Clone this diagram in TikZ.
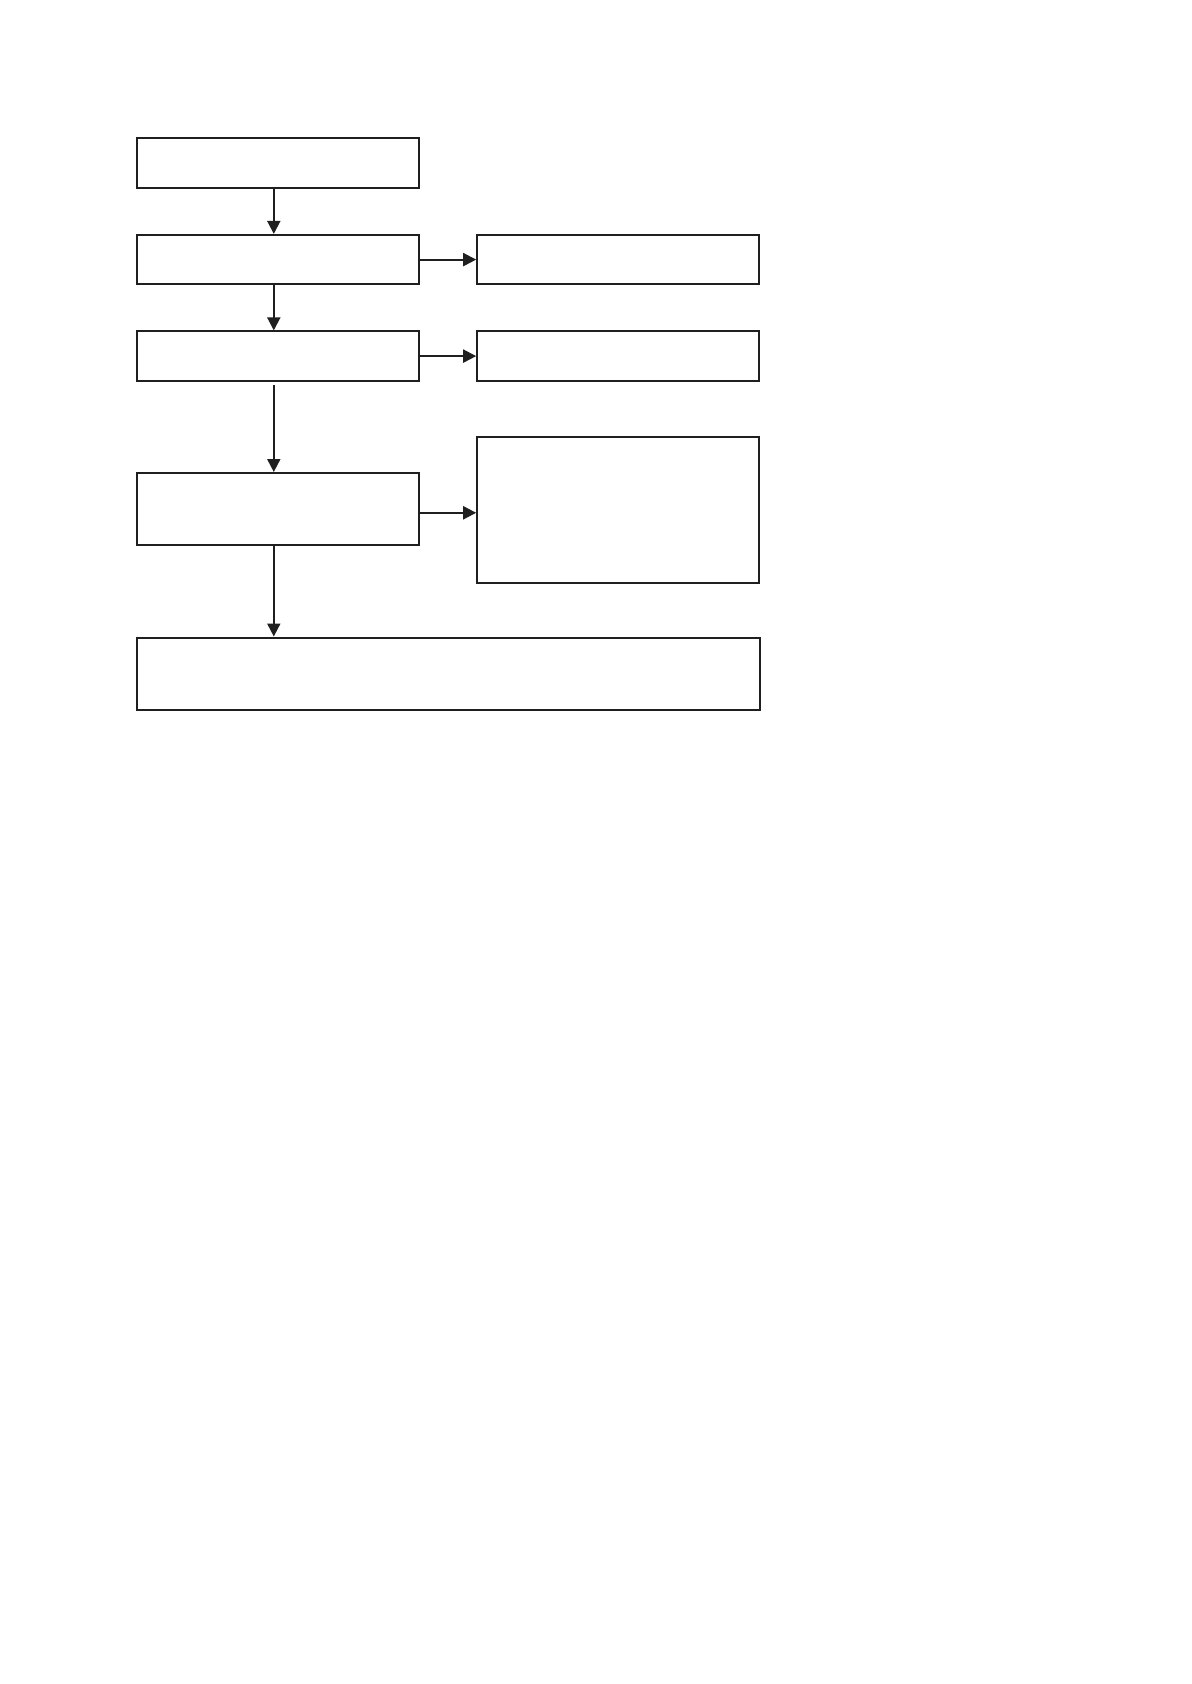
\documentclass[tikz,border=0pt]{standalone}
\usepackage{amsmath}
\usepackage{tikz}
\usetikzlibrary{arrows.meta}

\tikzset{
  stepbox/.style={draw=black!88, line width=1pt, inner sep=0pt, minimum width=141pt, minimum height=24.7pt},
  flow/.style={draw=black!88, line width=1pt, -{Triangle[length=6.5pt,width=6.5pt]}}
}

\begin{document}
\begin{tikzpicture}[x=0.5pt,y=0.5pt,yscale=-1,xscale=1]
\useasboundingbox (0,0) rectangle (1191,1684);

%Left column
\node [stepbox] (first) at (278,163.1) {};
\node [stepbox] (second) at (278,259.6) {};
\node [stepbox] (third) at (278,356.1) {};
\node [stepbox, minimum height=35.8pt] (fourth) at (278,508.8) {};
%Right column
\node [stepbox] (sideA) at (618.2,259.6) {};
\node [stepbox] (sideB) at (618.2,356.1) {};
\node [stepbox, minimum height=73pt] (sideC) at (618.2,510.4) {};
%Bottom wide box
\node [stepbox, minimum width=311.6pt, minimum height=36pt] (last) at (448.6,673.5) {};

%Down arrows
\draw [flow] ([xshift=-2.1pt]first.south) -- ([xshift=-2.1pt]second.north);
\draw [flow] ([xshift=-2.1pt]second.south) -- ([xshift=-2.1pt]third.north);
\draw [flow, shorten <=1.8pt] ([xshift=-2.1pt]third.south) -- ([xshift=-2.1pt]fourth.north);
\draw [flow] ([xshift=-2.1pt]fourth.south) -- ([xshift=-2.1pt]fourth.south |- last.north);
%Side arrows
\draw [flow] (second.east) -- (sideA.west);
\draw [flow] (third.east) -- (sideB.west);
\draw [flow] ([yshift=2pt]fourth.east) -- ([yshift=2pt]fourth.east -| sideC.west);

\end{tikzpicture}
\end{document}
